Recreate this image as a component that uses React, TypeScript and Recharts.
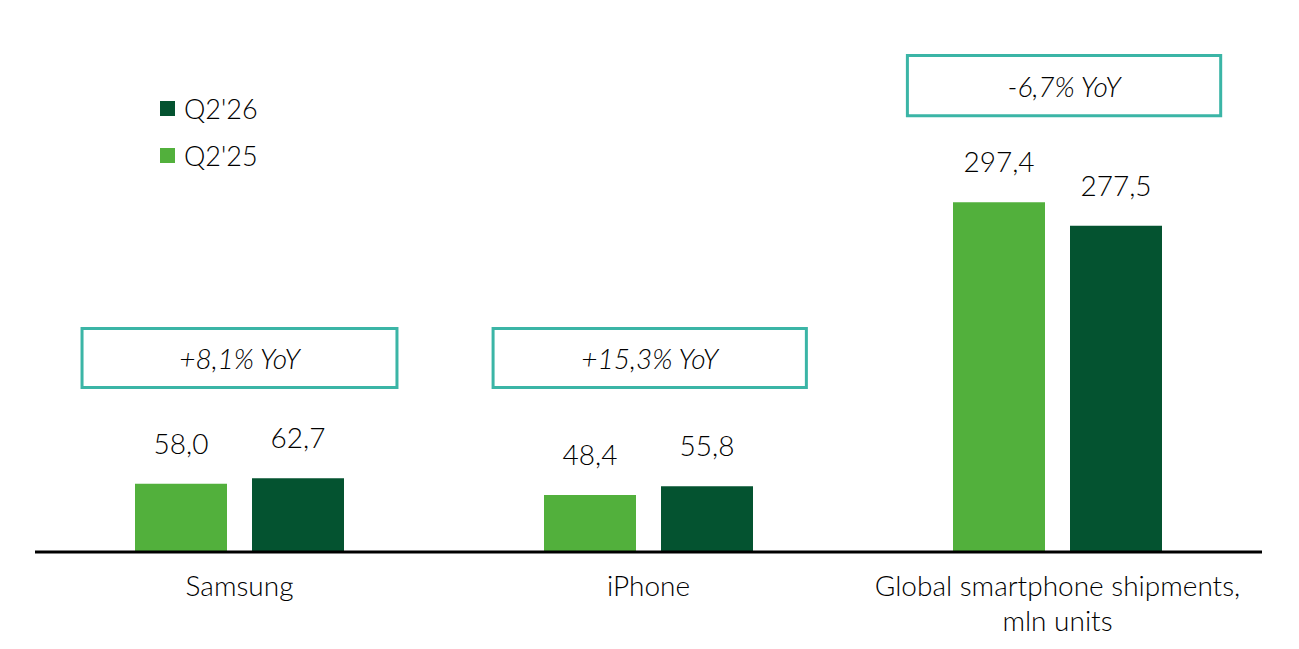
import { Bar, BarChart, LabelList, Legend, ReferenceArea, XAxis, YAxis } from "recharts";

const categories = ["Samsung", "iPhone", "Global smartphone shipments, mln units"];
const tickLines = [["Samsung"], ["iPhone"], ["Global smartphone shipments,", "mln units"]];
const q225 = [58.0, 48.4, 297.4];
const q226 = [62.7, 55.8, 277.5];
const yoyLabels = ["+8,1% YoY", "+15,3% YoY", "-6,7% YoY"];
// centre of each category band, in band units (0..3 across the plot)
const bandCenters = [0.5, 1.5, 2.5];

// box edges: x in band units, y in data units
const yoyBoxes = [
  { x1: 0.115, x2: 0.885, y1: 139.9, y2: 190.1 },
  { x1: 1.12, x2: 1.886, y1: 139.9, y2: 190.1 },
  { x1: 2.133, x2: 2.899, y1: 370.9, y2: 422.2 },
];

const LIGHT = "#52b03c";
const DARK = "#045330";
const TEAL = "#3bb5a6";
const FONT = "Lato, 'Noto Sans', sans-serif";
const WEIGHT = 300;

const data = categories.map((name, i) => ({ name, band: bandCenters[i], q225: q225[i], q226: q226[i] }));

const fmt = (v: unknown) => (typeof v === "number" ? v.toFixed(1).replace(".", ",") : "");

function CategoryTick({ x, y, payload }: any) {
  const lines = tickLines[payload?.index ?? 0] ?? [String(payload?.value ?? "")];
  return (
    <g transform={`translate(${x},${y})`}>
      {lines.map((l, i) => (
        <text
          key={i}
          x={0}
          y={44 + i * 35}
          textAnchor="middle"
          fill="#000"
          fontSize={28}
          fontWeight={WEIGHT}
          fontFamily={FONT}
        >
          {l}
        </text>
      ))}
    </g>
  );
}

function LegendBox({ payload }: any) {
  const items = [...(payload ?? [])].reverse();
  return (
    <div style={{ fontFamily: FONT, fontWeight: WEIGHT }}>
      {items.map((it: any) => (
        <div key={it.value} style={{ display: "flex", alignItems: "center", height: 47 }}>
          <span style={{ width: 15, height: 15, background: it.color, display: "inline-block", marginRight: 9 }} />
          <span style={{ fontSize: 27, color: "#000" }}>{it.value}</span>
        </div>
      ))}
    </div>
  );
}

export default function App() {
  return (
    <div style={{ position: "relative", width: 1283, height: 633 }}>
      <BarChart
        width={1283}
        height={633}
        data={data}
        margin={{ top: 3, right: 29, left: 27, bottom: 9 }}
        barSize={92}
        barGap={25}
        style={{ fontFamily: FONT }}
      >
        <XAxis
          dataKey="name"
          axisLine={{ stroke: "#000", strokeWidth: 3 }}
          tickLine={false}
          tickSize={0}
          tickMargin={0}
          height={80}
          interval={0}
          tick={<CategoryTick />}
        />
        <XAxis xAxisId="band" dataKey="band" type="number" scale="linear" domain={[0, 3]} hide allowDataOverflow />
        <YAxis hide domain={[0, 460]} allowDataOverflow />
        <Legend
          verticalAlign="middle"
          align="center"
          content={<LegendBox />}
          wrapperStyle={{ position: "absolute", left: 152, top: 77, width: 160 }}
        />
        {yoyBoxes.map((b, i) => (
          <ReferenceArea
            key={i}
            xAxisId="band"
            x1={b.x1}
            x2={b.x2}
            y1={b.y1}
            y2={b.y2}
            fill="#fff"
            fillOpacity={0}
            stroke={TEAL}
            strokeWidth={3}
            ifOverflow="visible"
            label={({ viewBox }: any) => (
              <text
                x={viewBox.x + viewBox.width / 2}
                y={viewBox.y + viewBox.height / 2}
                textAnchor="middle"
                dominantBaseline="central"
                fontSize={28}
                fontStyle="italic"
                fontWeight={WEIGHT}
                fontFamily={FONT}
                fill="#000"
              >
                {yoyLabels[i]}
              </text>
            )}
          />
        ))}
        <Bar dataKey="q225" name="Q2'25" fill={LIGHT} isAnimationActive={false}>
          <LabelList
            dataKey="q225"
            position="top"
            offset={30}
            formatter={fmt}
            fill="#000"
            fontSize={28}
            fontWeight={WEIGHT}
            fontFamily={FONT}
          />
        </Bar>
        <Bar dataKey="q226" name="Q2'26" fill={DARK} isAnimationActive={false}>
          <LabelList
            dataKey="q226"
            position="top"
            offset={30}
            formatter={fmt}
            fill="#000"
            fontSize={28}
            fontWeight={WEIGHT}
            fontFamily={FONT}
          />
        </Bar>
      </BarChart>
    </div>
  );
}
